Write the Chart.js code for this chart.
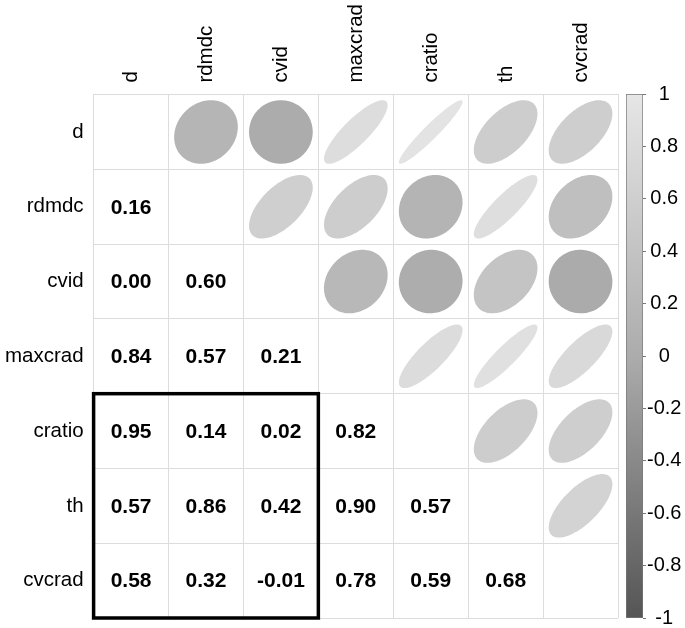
<!DOCTYPE html>
<html>
<head>
<meta charset="utf-8">
<script src="https://cdn.jsdelivr.net/npm/chart.js@4.4.0/dist/chart.umd.min.js"></script>
<style>
  html, body { margin: 0; padding: 0; background: #fff; }
  #wrap { position: relative; width: 685px; height: 628px; }
  #corr { position: absolute; left: 0; top: 0; }
  #bar { position: absolute; left: 620px; top: 80px; }
</style>
</head>
<body>
<div id="wrap">
  <canvas id="corr" width="685" height="628"></canvas>
  <canvas id="bar" width="65" height="552"></canvas>
</div>
<script>
// --- data ---
const vars = ['d', 'rdmdc', 'cvid', 'maxcrad', 'cratio', 'th', 'cvcrad'];
// lower triangle, row i holds corr with vars[0..i-1]
const corrLower = [
    [],
    [0.16],
    [0.00, 0.60],
    [0.84, 0.57, 0.21],
    [0.95, 0.14, 0.02, 0.82],
    [0.57, 0.86, 0.42, 0.90, 0.57],
    [0.58, 0.32, -0.01, 0.78, 0.59, 0.68]
];
const boxCols = ['d', 'cvid'];
const boxRows = ['cratio', 'cvcrad'];
const barRange = [-1, 1];

const FONT = "'Liberation Sans', Arial, sans-serif";

// grey ramp: -1 dark, 0 mid, 1 light
const greyOf = (r) => {
    const g = Math.round(r >= 0 ? 172 + 58 * r : 172 + 87 * r);
    return `rgb(${g},${g},${g})`;
};

const upperPts = [], lowerPts = [];
corrLower.forEach((row, i) => {
    row.forEach((v, j) => {
        lowerPts.push({ x: vars[j], y: vars[i], v });
        upperPts.push({ x: vars[i], y: vars[j], v });
    });
});

// --- ellipses / numbers / box ---
const corrPlugin = {
    id: 'corrMarks',
    afterDatasetsDraw(chart) {
        const ctx = chart.ctx;
        const xs = chart.scales.x, ys = chart.scales.y;
        const cw = Math.abs(xs.getPixelForValue(1) - xs.getPixelForValue(0));
        const ch = Math.abs(ys.getPixelForValue(1) - ys.getPixelForValue(0));

        ctx.save();
        chart.getDatasetMeta(0).data.forEach((el, i) => {
            const r = upperPts[i].v;
            const a = Math.acos(r);
            ctx.beginPath();
            for (let k = 0; k <= 120; k++) {
                const t = k / 120 * Math.PI * 2;
                const px = el.x + 0.85 * Math.cos(t + a / 2) / 2 * cw;
                const py = el.y - 0.85 * Math.cos(t - a / 2) / 2 * ch;
                k === 0 ? ctx.moveTo(px, py) : ctx.lineTo(px, py);
            }
            ctx.closePath();
            ctx.fillStyle = greyOf(r);
            ctx.fill();
        });

        ctx.fillStyle = '#000';
        ctx.font = `bold 21px ${FONT}`;
        ctx.textAlign = 'center';
        ctx.textBaseline = 'middle';
        chart.getDatasetMeta(1).data.forEach((el, i) => {
            ctx.fillText(lowerPts[i].v.toFixed(2), el.x, el.y + 1);
        });

        // highlight rectangle
        const x0 = xs.getPixelForValue(vars.indexOf(boxCols[0])) - cw / 2;
        const x1 = xs.getPixelForValue(vars.indexOf(boxCols[1])) + cw / 2;
        const y0 = ys.getPixelForValue(vars.indexOf(boxRows[0])) - ch / 2;
        const y1 = ys.getPixelForValue(vars.indexOf(boxRows[1])) + ch / 2;
        ctx.strokeStyle = '#000';
        ctx.lineWidth = 3.5;
        ctx.strokeRect(x0, y0, x1 - x0, y1 - y0);
        ctx.restore();
    }
};

const axisCommon = {
    type: 'category',
    labels: vars,
    offset: true,
    grid: { offset: true, color: '#dcdcdc', lineWidth: 1, drawTicks: false },
    border: { color: '#dcdcdc' },
    ticks: { color: '#000', font: { family: FONT, size: 20.5 } }
};

new Chart(document.getElementById('corr'), {
    type: 'scatter',
    data: {
        datasets: [
            { data: upperPts, pointRadius: 0, pointHoverRadius: 0 },
            { data: lowerPts, pointRadius: 0, pointHoverRadius: 0 }
        ]
    },
    options: {
        responsive: false,
        animation: false,
        devicePixelRatio: 1,
        events: [],
        layout: { padding: { left: -5, right: 67, top: -8, bottom: 10 } },
        plugins: { legend: { display: false }, tooltip: { enabled: false } },
        scales: {
            x: { ...axisCommon, position: 'top',
                 afterFit: (s) => { s.paddingLeft = 0; s.paddingRight = 0; },
                 ticks: { ...axisCommon.ticks, minRotation: 90, maxRotation: 90, padding: 12, labelOffset: 25 } },
            y: { ...axisCommon,
                 afterFit: (s) => { s.paddingTop = 0; s.paddingBottom = 0; },
                 ticks: { ...axisCommon.ticks, padding: 10 } }
        }
    },
    plugins: [corrPlugin]
});

// --- colour bar ---
new Chart(document.getElementById('bar'), {
    type: 'bar',
    data: {
        labels: [''],
        datasets: [{
            data: [barRange],
            barPercentage: 1,
            categoryPercentage: 1,
            borderColor: '#777',
            borderWidth: 1,
            borderSkipped: false,
            backgroundColor: (c) => {
                const area = c.chart.chartArea;
                if (!area) return '#aaa';
                const g = c.chart.ctx.createLinearGradient(0, area.top, 0, area.bottom);
                g.addColorStop(0, greyOf(1));
                g.addColorStop(0.5, greyOf(0));
                g.addColorStop(1, greyOf(-1));
                return g;
            }
        }]
    },
    options: {
        responsive: false,
        animation: false,
        devicePixelRatio: 1,
        events: [],
        layout: { padding: { left: 6, top: 14, bottom: 14, right: 0 } },
        plugins: { legend: { display: false }, tooltip: { enabled: false } },
        scales: {
            x: { display: false },
            y: {
                position: 'right',
                min: -1, max: 1,
                afterFit: (s) => { s.width = 42; },
                border: { display: false },
                grid: { drawOnChartArea: false, drawTicks: true, tickLength: 3, color: '#777' },
                ticks: { stepSize: 0.2, padding: 1, crossAlign: 'center', color: '#000',
                         font: { family: FONT, size: 20 },
                         callback: (v) => Math.round(v * 10) / 10 }
            }
        }
    }
});
</script>
</body>
</html>
